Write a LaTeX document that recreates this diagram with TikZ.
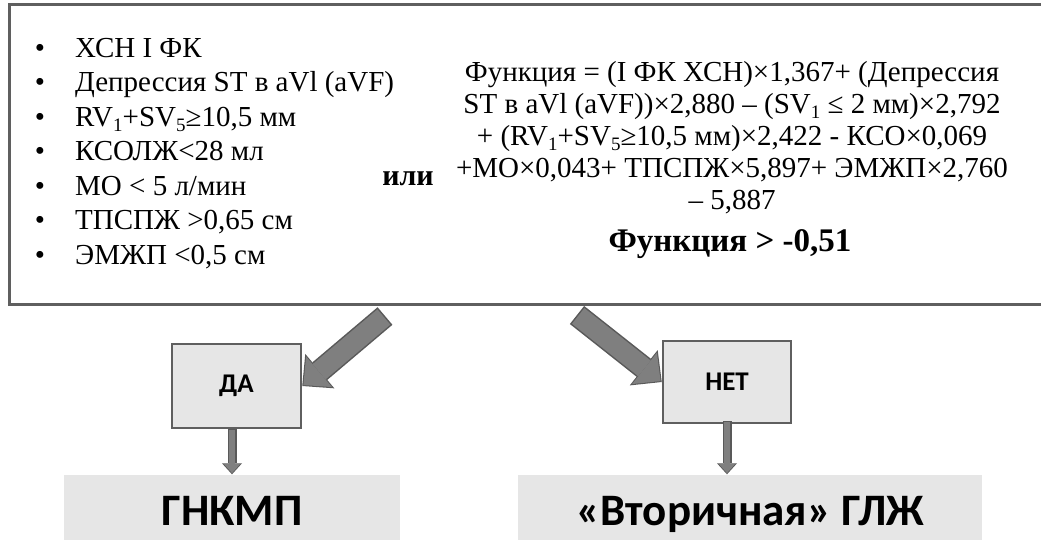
\documentclass[tikz,border=0pt]{standalone}
\usepackage{fontspec}
\setmainfont{Liberation Serif}
\newfontfamily\boxfont{Carlito}
\usetikzlibrary{positioning}
\usetikzlibrary{arrows.meta}
\definecolor{boxline}{HTML}{5F5F5F}
\definecolor{boxfill}{HTML}{E6E6E6}
\definecolor{arrfill}{HTML}{7F7F7F}
\definecolor{arrline}{HTML}{595959}
\newcommand{\lowsub}[1]{\raisebox{-0.4ex}{\fontsize{19}{19}\selectfont #1}}
\tikzset{
    framebox/.style = {draw=boxline, line width=3pt},
    answer/.style = {rectangle, draw=boxline, line width=2.5pt, fill=boxfill, inner sep=0pt, font=\boxfont\bfseries\fontsize{27}{30}\selectfont, text=black},
    result/.style = {rectangle, fill=boxfill, inner sep=0pt, minimum height=72pt, text height=29pt, text depth=0pt, font=\boxfont\bfseries\fontsize{45}{54}\selectfont, text=black},
    itemdot/.style = {anchor=base, inner sep=0pt, font=\fontsize{29}{34}\selectfont},
    itemtext/.style = {anchor=base west, inner sep=0pt, font=\fontsize{29}{34}\selectfont},
    formline/.style = {anchor=base, inner sep=0pt, font=\fontsize{29}{32}\selectfont},
    fatout/.style = {draw=arrline, line width=23pt, -{Triangle[width=45pt,length=23pt,line width=0pt]}}, % outline
    fatin/.style = {draw=arrfill, line width=20pt, -{Triangle[width=40pt,length=20.5pt,line width=0pt]}, shorten >=1.5pt, shorten <=1.5pt}, % fill
    thinout/.style = {draw=arrline, line width=9pt, -{Triangle[width=20pt,length=11pt,line width=0pt]}},
    thinin/.style = {draw=arrfill, line width=6.5pt, -{Triangle[width=16pt,length=9pt,line width=0pt]}, shorten >=1.2pt, shorten <=1.2pt}
}
\begin{document}
\begin{tikzpicture}[x=1pt,y=-1pt]
\clip (0,0) rectangle (1041,539);
\fill[white] (0,0) rectangle (1041,539);

% criteria frame
\draw[framebox] (9,4) rectangle (1070,304);

\foreach \txt [count=\i from 0] in {{ХСН I ФК}, {Депрессия ST в aVl (aVF)}, {RV\lowsub{1}+SV\lowsub{5}≥10,5 мм}, {КСОЛЖ<28 мл}, {МО < 5 л/мин}, {ТПСПЖ >0,65 см}, {ЭМЖП <0,5 см}}
{
    \node[itemdot] (b\i) at (40,{57+34.5*\i}) {\textbullet};
    \node[itemtext] (it\i) at (75,{57+34.5*\i}) {\txt};
}

\node[formline, font=\bfseries\fontsize{30}{32}\selectfont] (ili) at (408,185) {или};

\foreach \txt [count=\i from 0] in {{Функция = (I ФК ХСН)×1,367+ (Депрессия}, {ST в aVl (aVF))×2,880 – (SV\lowsub{1} ≤ 2 мм)×2,792}, {+ (RV\lowsub{1}+SV\lowsub{5}≥10,5 мм)×2,422 - КСО×0,069}, {+МО×0,043+ ТПСПЖ×5,897+ ЭМЖП×2,760}, {– 5,887}}
{
    \node[formline] (f\i) at (732,{81+32*\i}) {\txt};
}
\node[formline, font=\bfseries\fontsize{33}{36}\selectfont] (fres) at (730,251) {Функция > -0,51};

% answers
\node[answer, minimum width=129pt, minimum height=84pt] (da) at (236.5,386) {ДА};
\node[answer, minimum width=128pt, minimum height=82pt] (net) at (727,382) {НЕТ};

\node[result, minimum width=336pt] (gnk) at (232,510.5) {ГНКМП};
\node[result, minimum width=464pt] (vtor) at (750,510.5) {«Вторичная» ГЛЖ};

\coordinate (ltail) at (385,316);
\coordinate (rtail) at (577,315);

\draw[fatout] (ltail) -- (da.east);
\draw[fatin] (ltail) -- (da.east);
\draw[fatout] (rtail) -- (net.west);
\draw[fatin] (rtail) -- (net.west);

\draw[thinout] (da.south -| gnk.north) -- (gnk.north);
\draw[thinin] (da.south -| gnk.north) -- (gnk.north);
\draw[thinout] ([yshift=3pt]net.south) -- (net.south |- vtor.north);
\draw[thinin] ([yshift=3pt]net.south) -- (net.south |- vtor.north);

\end{tikzpicture}
\end{document}
